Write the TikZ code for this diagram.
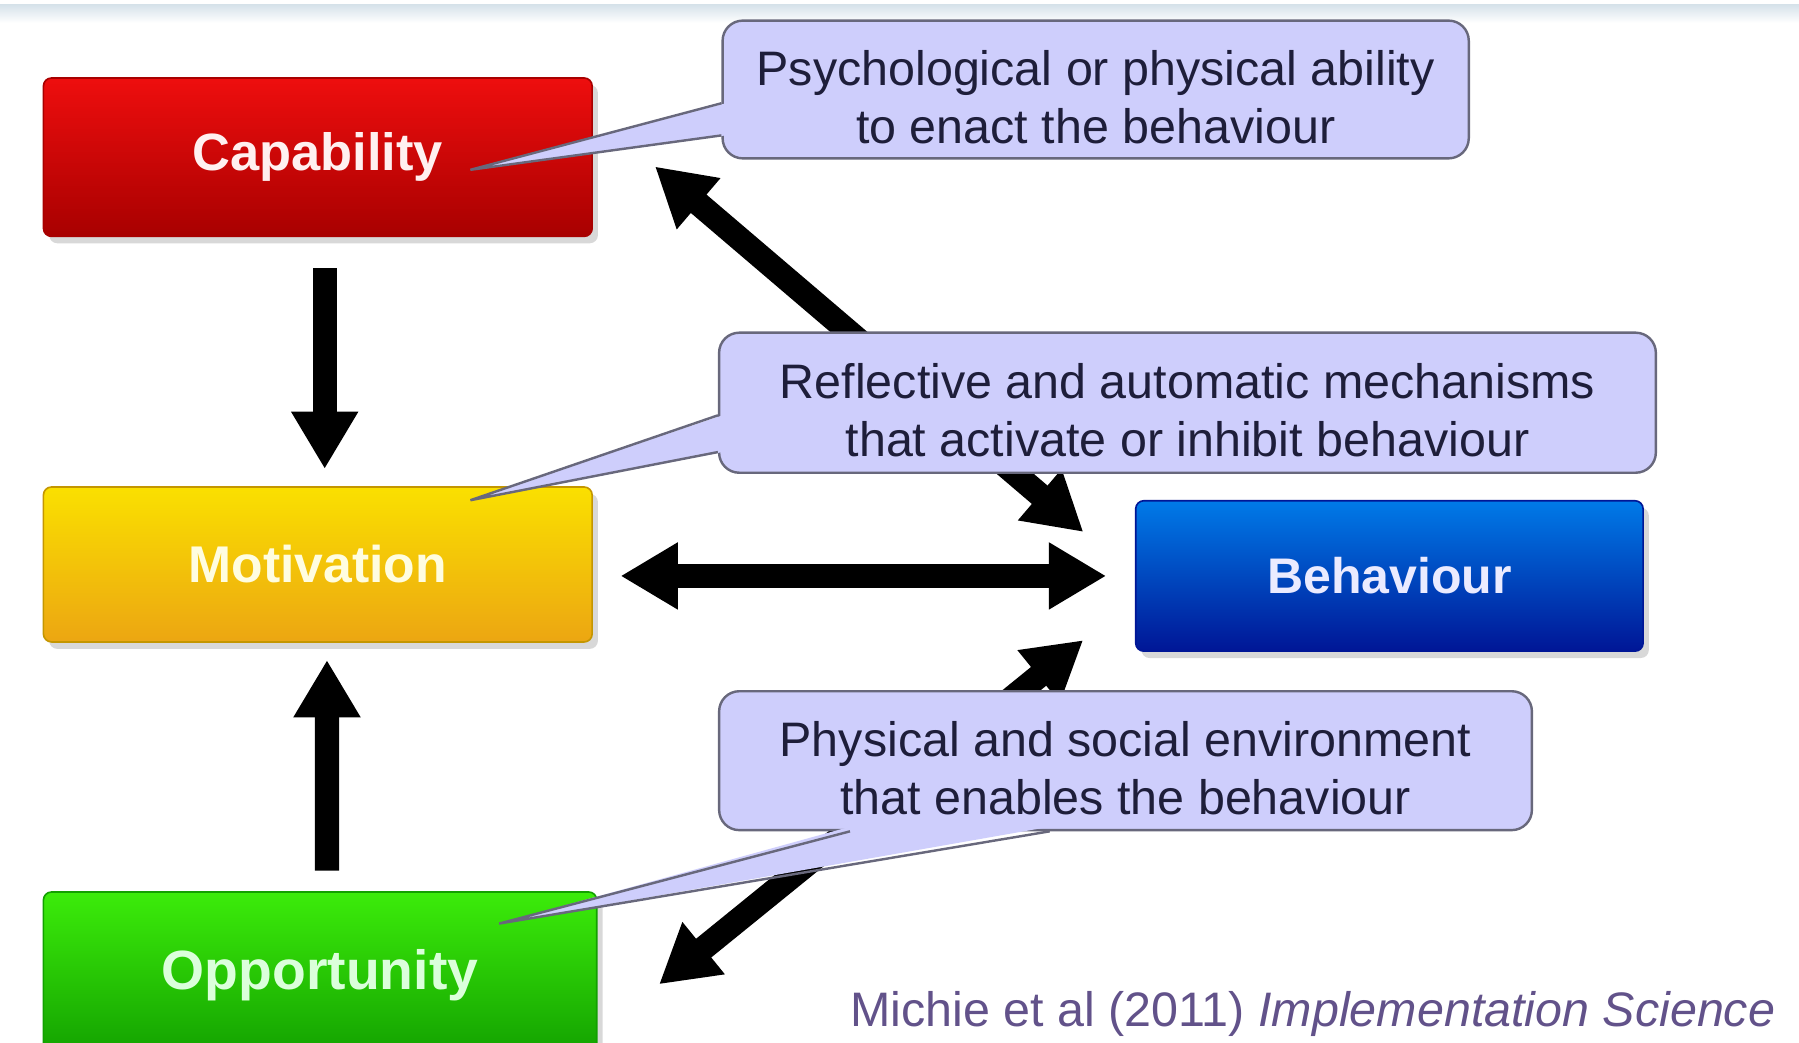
\documentclass[tikz,border=0pt]{standalone}
\usepackage{fontspec}
\setmainfont{Liberation Sans}
\usetikzlibrary{arrows.meta,shadows,calc}
\definecolor{capTop}{RGB}{238,14,14}
\definecolor{capBot}{RGB}{168,0,0}
\definecolor{motTop}{RGB}{250,224,0}
\definecolor{motBot}{RGB}{236,166,18}
\definecolor{motBd}{RGB}{196,150,0}
\definecolor{oppTop}{RGB}{60,236,10}
\definecolor{oppBot}{RGB}{18,160,0}
\definecolor{behTop}{RGB}{0,122,232}
\definecolor{behBot}{RGB}{0,22,150}
\definecolor{notebg}{RGB}{206,206,252}
\definecolor{notebd}{RGB}{104,104,124}
\definecolor{notetx}{RGB}{30,30,58}
\definecolor{citetx}{RGB}{98,82,138}
\definecolor{band}{RGB}{214,226,234}
\newcommand{\notestrut}{\rule{0pt}{0.44cm}}
\tikzset{
  factor/.style   = {draw, rounded corners=2pt, inner sep=0pt, minimum width=4.78cm,
                     minimum height=1.38cm, font=\bfseries\fontsize{13}{15}\selectfont,
                     drop shadow={opacity=0.3, shadow xshift=0.05cm, shadow yshift=-0.06cm}},
  note/.style     = {draw=notebd, fill=notebg, line width=0.6pt, rounded corners=5pt,
                     align=center, inner sep=0pt, text=notetx,
                     font=\fontsize{12}{14.3}\selectfont},
  noteline/.style = {draw=notebd, line width=0.6pt, line join=miter},
  wide/.style     = {line width=0.21cm, -{Triangle[length=0.5cm,width=0.55cm]}},
  wideboth/.style = {line width=0.21cm, {Triangle[length=0.5cm,width=0.55cm]}-{Triangle[length=0.5cm,width=0.55cm]}},
  cite/.style     = {text=citetx, inner sep=0pt, font=\fontsize{12}{14}\selectfont}
}
\begin{document}
\begin{tikzpicture}[x=0.01cm,y=-0.01cm]
  \clip (0,0) rectangle (1568,909);
  \fill[white] (0,0) rectangle (1568,909);
  \shade[top color=band, bottom color=white] (0,4) rectangle (1568,20);

  \node[factor, top color=capTop, bottom color=capBot, draw=capBot, text=white!94!red] (cap) at (277,137) {Capability};
  \node[factor, top color=motTop, bottom color=motBot, draw=motBd, text=yellow!12!white,
        minimum height=1.35cm, font=\bfseries\fontsize{12.8}{15}\selectfont] (mot) at (277,492) {Motivation};
  \node[factor, top color=oppTop, bottom color=oppBot, draw=oppBot, text=green!14!white,
        minimum width=4.82cm, minimum height=1.45cm, font=\bfseries\fontsize{13.7}{16}\selectfont] (opp) at (279,850) {Opportunity};
  \node[factor, top color=behTop, bottom color=behBot, draw=behBot, text=blue!8!white,
        minimum width=4.42cm, minimum height=1.31cm, font=\bfseries\fontsize{12.4}{15}\selectfont] (beh) at (1211,502) {Behaviour};

  \draw[wide, shorten <=0.27cm, shorten >=0.15cm] ([xshift=0.06cm]cap.south) -- ([xshift=0.06cm]mot.north);
  \draw[wide, shorten <=0.18cm, shorten >=0.15cm] ([xshift=0.06cm]opp.north) -- ([xshift=0.08cm]mot.south);
  \draw[wideboth, shorten <=0.25cm, shorten >=0.24cm] (beh.west) -- (beh.west -| mot.east);
  \draw[wideboth, shorten <=0.71cm, shorten >=0.59cm] (cap.9) -- (beh.west);
  \draw[wideboth, shorten <=0.69cm, shorten >=0.58cm] (opp.-12) -- (beh.185);

  \node[note, minimum width=6.5cm, minimum height=1.2cm] (n1) at (955,78)
    {\notestrut Psychological or physical ability\\to enact the behaviour};
  \coordinate (p1) at (410,148);
  \fill[notebg] ([xshift=0.04cm,yshift=-0.12cm]n1.west) -- (p1) -- ([xshift=0.04cm,yshift=-0.40cm]n1.west) -- cycle;
  \draw[noteline] ([yshift=-0.12cm]n1.west) -- (p1) -- ([yshift=-0.40cm]n1.west);

  \node[note, minimum width=8.16cm, minimum height=1.22cm] (n2) at (1035,351)
    {\notestrut Reflective and automatic mechanisms\\that activate or inhibit behaviour};
  \coordinate (p2) at (410,436);
  \fill[notebg] ([xshift=0.04cm,yshift=-0.11cm]n2.west) -- (p2) -- ([xshift=0.04cm,yshift=-0.43cm]n2.west) -- cycle;
  \draw[noteline] ([yshift=-0.11cm]n2.west) -- (p2) -- ([yshift=-0.43cm]n2.west);

  \node[note, minimum width=7.08cm, minimum height=1.21cm] (n3) at (981,663)
    {\notestrut Physical and social environment\\that enables the behaviour};
  \coordinate (p3) at (435,805);
  \fill[notebg] ([xshift=-2.40cm,yshift=0.04cm]n3.south) -- (p3) -- ([xshift=-0.66cm,yshift=0.04cm]n3.south) -- cycle;
  \draw[noteline] ([xshift=-2.40cm]n3.south) -- (p3) -- ([xshift=-0.66cm]n3.south);

  \node[cite, anchor=east] (src) at (1548,884) {Michie et al (2011) \textit{Implementation Science}};
\end{tikzpicture}
\end{document}
